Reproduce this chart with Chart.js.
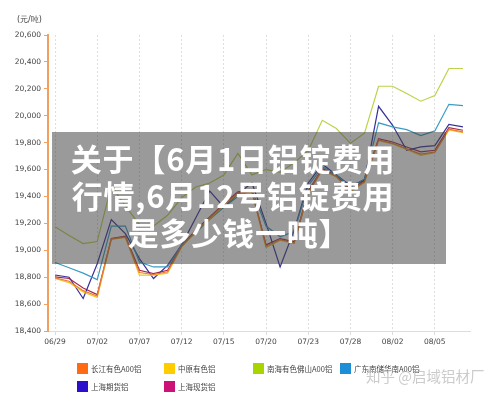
<!DOCTYPE html>
<html><head><meta charset="utf-8">
<script src="https://cdn.jsdelivr.net/npm/chart.js@4/dist/chart.umd.min.js"></script>
<style>
html,body{margin:0;padding:0;background:#fff;}
#wrap{position:relative;width:500px;height:397px;overflow:hidden;font-family:"DejaVu Sans",sans-serif;}
canvas{position:absolute;left:0;top:0;}
#unit{position:absolute;left:17px;top:14px;font-size:8px;color:#444;}
#overlay{position:absolute;left:52px;top:132px;width:394px;height:132px;background:rgba(64,64,64,0.53);}
#otext{position:absolute;left:48px;top:139px;width:370px;text-align:center;color:#fff;font-family:"Noto Sans CJK SC",sans-serif;font-weight:bold;font-size:31px;letter-spacing:0.8px;line-height:37px;white-space:nowrap;}
#otext span{position:relative;left:6px;}
#legend{position:absolute;left:0;top:0;width:500px;height:397px;pointer-events:none;}
.li{position:absolute;font-size:7.5px;color:#444;font-family:"Noto Sans CJK SC",sans-serif;line-height:11px;}
.li i{position:absolute;left:-14px;top:0;width:11px;height:11px;}
#wm{position:absolute;left:366px;top:365px;font-size:14.5px;color:rgba(185,185,185,0.75);font-family:"Noto Sans CJK SC",sans-serif;white-space:nowrap;}
</style></head>
<body><div id="wrap">
<canvas id="c" width="500" height="397"></canvas>
<div id="unit">(元/吨)</div>
<div id="legend"></div>
<div id="overlay"></div>
<div id="otext">关于【6月1日铝锭费用<br>行情,6月12号铝锭费用<br><span>是多少钱一吨】</span></div>
<div id="wm">知乎 @启域铝材厂</div>
</div>
<script>
const labels = ['06/29','06/30','07/01','07/02','07/05','07/06','07/07','07/08','07/09','07/12','07/13','07/14','07/15','07/16','07/19','07/20','07/21','07/22','07/23','07/26','07/27','07/28','07/29','07/30','08/02','08/03','08/04','08/05','08/06','08/09'];
const seriesNames = ['长江有色A00铝','中原有色铝','南海有色佛山A00铝','广东南储华南A00铝','上海期货铝','上海现货铝'];
const changjiang = [18795,18770,18700,18660,19085,19100,18835,18820,18840,19030,19140,19240,19340,19425,19435,19030,19080,19055,19430,19600,19550,19440,19510,19820,19795,19755,19715,19730,19900,19880];
const zhongyuan  = [18790,18760,18690,18650,19080,19095,18815,18815,18830,19025,19135,19235,19335,19420,19430,19020,19075,19050,19425,19595,19545,19435,19505,19815,19790,19750,19705,19725,19895,19875];
const nanhai     = [19175,19110,19050,19065,19480,19330,19190,19180,19260,19390,19470,19500,19560,19720,19560,19600,19580,19650,19740,19966,19905,19795,19870,20219,20219,20165,20108,20150,20351,20351];
const guangdong  = [18909,18870,18830,18782,19180,19180,18913,18876,18876,19040,19130,19230,19320,19400,19450,19180,19100,19140,19480,19620,19560,19470,19530,19947,19917,19897,19853,19887,20085,20075];
const qihuo      = [18816,18800,18641,18900,19228,19124,18938,18790,18888,19040,19240,19440,19320,19420,19500,19200,18876,19150,19500,19640,19560,19480,19520,20070,19929,19743,19768,19778,19935,19917];
const xianhuo    = [18802,18790,18720,18671,19087,19104,18851,18826,18851,19037,19149,19248,19347,19434,19440,19040,19087,19062,19440,19607,19558,19446,19520,19830,19805,19768,19731,19743,19912,19892];
const lineColors = ['#ee7a30','#f2c420','#bcd24a','#3a9cc4','#38309a','#a82848'];
const boxColors  = ['#ff6a13','#ffcc00','#a8d400','#1e8fd6','#2a10cc','#cc1177'];
const values = [changjiang,zhongyuan,nanhai,guangdong,qihuo,xianhuo];

const datasets = values.map((v,i)=>({label:seriesNames[i],data:v,borderColor:lineColors[i],backgroundColor:lineColors[i],borderWidth:1.2,pointRadius:0,tension:0,fill:false}));

new Chart(document.getElementById('c'),{
  type:'line',
  data:{labels,datasets},
  options:{
    responsive:false,animation:false,
    layout:{padding:{left:0,top:35,right:30,bottom:46}},
    plugins:{legend:{display:false},tooltip:{enabled:false}},
    scales:{
      x:{
        offset:true,
        afterFit:(s)=>{s.height=20;},
        border:{color:'#dcdcdc',width:1,dash:[2,2]},
        grid:{offset:false,drawTicks:true,tickLength:4,color:(ctx)=>ctx.index%3===0?'#dedede':'rgba(0,0,0,0)',tickColor:(ctx)=>ctx.index%3===0?'#dcdcdc':'rgba(0,0,0,0)'},
        ticks:{autoSkip:false,maxRotation:0,padding:3,color:'#444',font:{family:'DejaVu Sans',size:7.5},callback:function(val,idx){return idx%3===0?this.getLabelForValue(val):'';}}
      },
      y:{
        min:18400,max:20600,
        afterFit:(s)=>{s.width=48;},
        border:{color:'#f0a060',width:2},
        grid:{drawOnChartArea:false,tickLength:4,tickColor:'#f0a060'},
        ticks:{stepSize:200,padding:3,color:'#444',font:{family:'DejaVu Sans',size:7.5},callback:(v)=>v.toLocaleString('en-US')}
      }
    }
  }
});

const cols=[91,178,267,354], rows=[363,381];
const lg=document.getElementById('legend');
seriesNames.forEach((n,i)=>{
  const d=document.createElement('div');d.className='li';
  d.style.left=cols[i%4]+'px';d.style.top=rows[Math.floor(i/4)]+'px';
  d.innerHTML='<i style="background:'+boxColors[i]+'"></i>'+n;
  lg.appendChild(d);
});
</script>
</body></html>
